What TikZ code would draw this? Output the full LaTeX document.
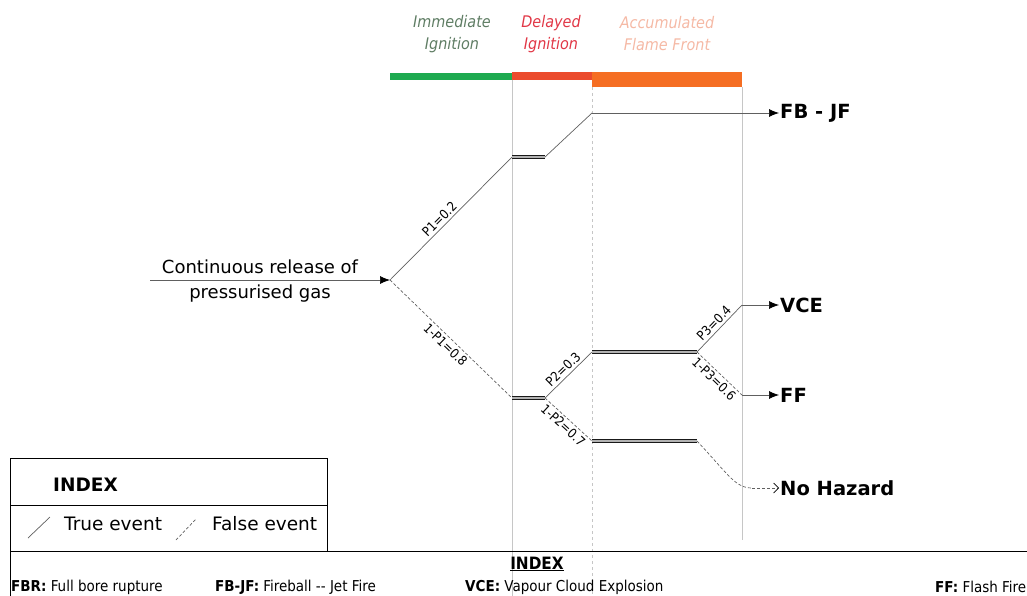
\documentclass[tikz,border=0pt]{standalone}
\usepackage{fontspec}
\setmainfont{DejaVu Sans}
\newfontfamily\narrowfont{DejaVu Sans Condensed}
\usetikzlibrary{arrows.meta,positioning}
\tikzset {>=Stealth}

\definecolor{immcol}{RGB}{95,125,100}
\definecolor{delcol}{RGB}{225,55,70}
\definecolor{acccol}{RGB}{245,185,165}
\definecolor{immbar}{RGB}{30,170,80}
\definecolor{delbar}{RGB}{235,75,45}
\definecolor{accbar}{RGB}{245,110,35}

\begin{document}
\begin{tikzpicture}[x=1pt,y=-1pt,
  true/.style={draw=gray!75!black,line width=.7pt},
  false/.style={draw=gray!75!black,line width=.7pt,densely dashed},
  tip/.style={-{Latex[length=10pt,width=8pt,black]}},
  bar/.style={draw=gray!20!black,double=gray!60,double distance=1.5pt,line width=1.4pt},
  guide/.style={draw=gray!45,line width=.6pt},
  prob/.style={font=\narrowfont\fontsize{13}{14}\selectfont,inner sep=2.5pt},
  outcome/.style={font=\bfseries\fontsize{19.5}{22}\selectfont,anchor=west,inner sep=1pt},
  phase/.style={font=\narrowfont\itshape\fontsize{16}{22}\selectfont,align=center},
  legend/.style={font=\fontsize{18.5}{20}\selectfont,anchor=west,inner sep=1pt},
  abbr/.style={font=\narrowfont\fontsize{15}{16}\selectfont,anchor=west,inner sep=0pt}]
\useasboundingbox (0,0) rectangle (1027,596);

% phases of ignition
\node[phase,text=immcol] (imm) at (452,34) {Immediate\\Ignition};
\node[phase,text=delcol] (del) at (551,34) {Delayed\\Ignition};
\node[phase,text=acccol] (acc) at (667,34) {Accumulated\\Flame Front};
\fill[immbar] (390,73) rectangle (512,80);
\fill[delbar] (512,72) rectangle (592,80);
\fill[accbar] (592,72) rectangle (742,87);

\draw[guide] (512,80) -- (512,596);
\draw[guide,dashed] (592,87) -- (592,596);
\draw[guide] (742,87) -- (742,540);

% initiating event
\coordinate (src) at (150,280);
\coordinate (n0) at (390,280);
\draw[true,tip] (src) -- (n0);
\node[font=\fontsize{18}{20}\selectfont] (rel) at (260,267) {Continuous release of};
\node[font=\fontsize{18}{20}\selectfont] (gas) at (260,294) {pressurised gas};

% branch points
\path
  (512,157) coordinate (A1)  (545,157) coordinate (A2)  (592,113) coordinate (A3)
  (512,398) coordinate (B1)  (545,398) coordinate (B2)
  (592,352) coordinate (C1)  (697,352) coordinate (C2)
  (592,441) coordinate (D1)  (697,441) coordinate (D2)
  (742,305) coordinate (E1)  (742,395) coordinate (F1)  (752,488) coordinate (G1);

\node[outcome] (fbjf) at (779,113) {FB - JF};
\node[outcome] (vce) at (779,305) {VCE};
\node[outcome] (ff) at (779,395) {FF};
\node[outcome] (nohaz) at (779,488) {No Hazard};

\draw[true] (n0) -- node[prob,sloped,above,pos=.45] {P1=0.2} (A1);
\draw[false] (n0) -- node[prob,sloped,below] {1-P1=0.8} (B1);
\draw[true] (A2) -- (A3);
\draw[true,tip] (A3) -- (fbjf.west);

\draw[true] (B2) -- node[prob,sloped,above] {P2=0.3} (C1);
\draw[false] (B2) -- node[prob,sloped,below] {1-P2=0.7} (D1);

\draw[true] (C2) -- node[prob,sloped,above] {P3=0.4} (E1);
\draw[true,tip] (E1) -- (vce.west);
\draw[false] (C2) -- node[prob,sloped,below] {1-P3=0.6} (F1);
\draw[true,tip] (F1) -- (ff.west);

\draw[false] (D2) .. controls (728,474) and (735,488) .. (G1);
\draw[false,-{Straight Barb[length=5pt,black]}] (G1) -- (nohaz.west);

\foreach \a/\b in {A1/A2,B1/B2,C1/C2,D1/D2}
  \draw[bar] (\a) -- (\b);

% index box
\draw[line width=.9pt] (10,596) -- (10,458) -- (327,458) -- (327,551);
\draw[line width=.9pt] (10,505) -- (327,505);
\draw[line width=.9pt] (10,551) -- (1027,551);
\node[legend,font=\bfseries\fontsize{18.5}{20}\selectfont] (idx) at (52,485) {INDEX};
\node[legend] (trueev) at (63,524) {True event};
\node[legend] (falseev) at (211,524) {False event};
\draw[true] (28,538) -- (50,517);
\draw[false] (176,540) -- (196,519);

\node[font=\bfseries\narrowfont\fontsize{17}{18}\selectfont,inner sep=1pt] (idx2) at (537,564) {\underline{INDEX}};
\node[abbr] (fbr) at (11,587) {\textbf{FBR:} Full bore rupture};
\node[abbr] (fb) at (215,587) {\textbf{FB-JF:} Fireball -- Jet Fire};
\node[abbr] (vcex) at (465,587) {\textbf{VCE:} Vapour Cloud Explosion};
\node[abbr] (ffx) at (935,587) {\textbf{FF:} Flash Fire};
\end{tikzpicture}
\end{document}
